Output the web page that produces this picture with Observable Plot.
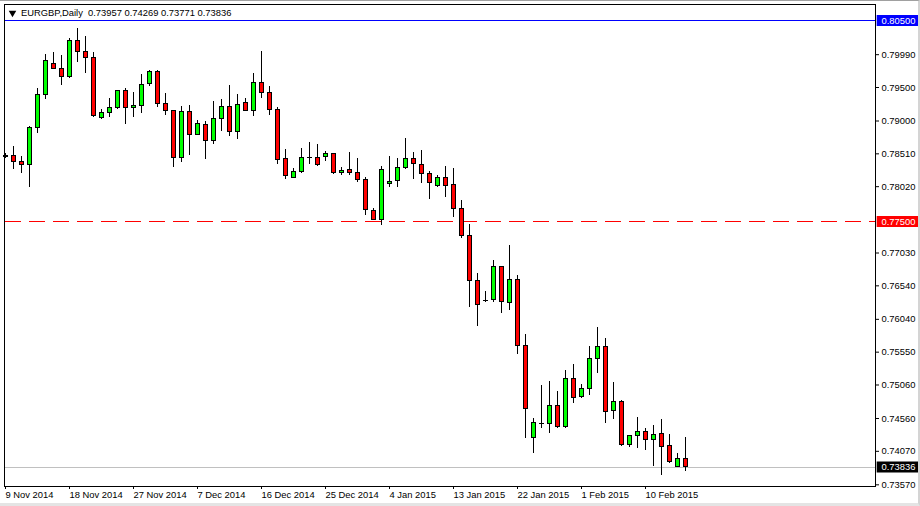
<!DOCTYPE html>
<html>
<head>
<meta charset="utf-8">
<script src="https://cdn.jsdelivr.net/npm/d3@7"></script>
<script src="https://cdn.jsdelivr.net/npm/@observablehq/plot@0.6"></script>
<style>
html, body { margin: 0; padding: 0; background: #fff; }
#wrap { position: relative; width: 920px; height: 506px; overflow: hidden; }
#edge { position: absolute; left: 0; top: 0; width: 918px; height: 502px;
        border-top: 1px solid #a0a0a0; border-right: 2px solid #d4d4d4; border-bottom: 3px solid #e4e4e4;
        pointer-events: none; }
</style>
</head>
<body>
<div id="wrap"><div id="edge"></div></div>
<script>
// ---- data ----
const titleText = "EURGBP,Daily  0.73957 0.74269 0.73771 0.73836";

const opens = [0.78476,0.78484,0.78390,0.78345,0.78892,0.79390,0.79858,0.79779,0.79653,0.80191,
0.80033,0.79943,0.79041,0.79122,0.79190,0.79450,0.79196,0.79226,0.79555,0.79738,
0.79256,0.79151,0.78450,0.79137,0.78793,0.78942,0.78703,0.79032,0.79211,0.78838,
0.79271,0.79151,0.79570,0.79420,0.79166,0.78435,0.78151,0.78235,0.78450,0.78450,
0.78465,0.78509,0.78226,0.78270,0.78226,0.78121,0.77658,0.77524,0.78061,0.78106,
0.78300,0.78435,0.78345,0.78211,0.78031,0.78151,0.78046,0.77688,0.77285,0.76613,
0.76318,0.76329,0.76822,0.76284,0.76628,0.75636,0.74273,0.74482,0.74477,0.74746,
0.74426,0.75149,0.74880,0.75000,0.75448,0.75627,0.74671,0.74806,0.74164,0.74298,
0.74358,0.74238,0.74328,0.74149,0.73835,0.73957];

const highs = [0.78514,0.78618,0.78469,0.78917,0.79480,0.79992,0.80022,0.79973,0.80231,0.80381,
0.80261,0.80018,0.79171,0.79335,0.79455,0.79480,0.79425,0.79694,0.79749,0.79749,
0.79405,0.79156,0.79216,0.79226,0.79007,0.78996,0.79290,0.79316,0.79529,0.79395,
0.79335,0.79709,0.80037,0.79514,0.79196,0.78569,0.78285,0.78584,0.78678,0.78648,
0.78544,0.78514,0.78300,0.78524,0.78435,0.78151,0.77688,0.78315,0.78465,0.78435,
0.78733,0.78524,0.78554,0.78241,0.78181,0.78315,0.78285,0.77807,0.77453,0.76717,
0.76448,0.76911,0.76826,0.77135,0.76687,0.75821,0.74567,0.75045,0.75109,0.74960,
0.75273,0.75363,0.75074,0.75642,0.75911,0.75747,0.75104,0.74836,0.74313,0.74582,
0.74417,0.74462,0.74552,0.74328,0.74044,0.74269];

const lows = [0.78439,0.78275,0.78215,0.78006,0.78817,0.79320,0.79776,0.79534,0.79638,0.79877,
0.79713,0.79047,0.79017,0.79047,0.79175,0.78951,0.79047,0.79116,0.79510,0.79205,
0.79081,0.78309,0.78384,0.78484,0.78790,0.78429,0.78653,0.78838,0.78772,0.78727,
0.79148,0.79062,0.79331,0.79077,0.78345,0.78121,0.78148,0.78220,0.78354,0.78324,
0.78399,0.78196,0.78181,0.78181,0.78076,0.77583,0.77509,0.77434,0.78002,0.78002,
0.78270,0.78121,0.78061,0.77822,0.78002,0.77852,0.77553,0.77240,0.76218,0.75935,
0.76284,0.76284,0.76120,0.76165,0.75522,0.74268,0.74044,0.74417,0.74343,0.74411,
0.74411,0.74791,0.74865,0.74910,0.75239,0.74492,0.74552,0.74149,0.74134,0.74119,
0.74089,0.73850,0.73716,0.73895,0.73835,0.73771];

const closes = [0.78470,0.78394,0.78345,0.78902,0.79390,0.79898,0.79779,0.79659,0.80191,0.80033,
0.79943,0.79071,0.79122,0.79196,0.79450,0.79190,0.79226,0.79540,0.79738,0.79256,
0.79151,0.78450,0.79141,0.78793,0.78957,0.78703,0.79032,0.79211,0.78838,0.79241,
0.79151,0.79570,0.79420,0.79166,0.78420,0.78181,0.78241,0.78450,0.78446,0.78345,
0.78509,0.78226,0.78255,0.78226,0.78121,0.77673,0.77524,0.78270,0.78091,0.78300,
0.78435,0.78360,0.78211,0.78076,0.78151,0.78031,0.77688,0.77285,0.76613,0.76254,
0.76315,0.76822,0.76299,0.76628,0.75646,0.74701,0.74486,0.74478,0.74746,0.74426,
0.75149,0.74865,0.75000,0.75448,0.75627,0.74656,0.74806,0.74164,0.74298,0.74358,
0.74238,0.74313,0.74134,0.73910,0.73954,0.73836];

const dateTickIndex = [0, 8, 16, 24, 32, 40, 48, 56, 64, 72, 80];
const dateLabels = ["9 Nov 2014","18 Nov 2014","27 Nov 2014","7 Dec 2014","16 Dec 2014",
  "25 Dec 2014","4 Jan 2015","13 Jan 2015","22 Jan 2015","1 Feb 2015","10 Feb 2015"];

const priceTicks = [0.7999,0.7950,0.7900,0.7851,0.7802,0.7703,0.7654,0.7604,0.7555,0.7506,0.7456,0.7407,0.7357];

const levelValues = [0.80500, 0.77500];
const levelColors = ["#0000ff", "#ff0000"];
const lastPrice = 0.73836;

// ---- build ----
const bars = opens.map((o, i) => ({i, o, h: highs[i], l: lows[i], c: closes[i], up: closes[i] > opens[i]}));
const labelAt = new Map(dateTickIndex.map((t, k) => [t, dateLabels[k]]));
const tags = [
  {v: levelValues[0], color: levelColors[0]},
  {v: levelValues[1], color: levelColors[1]},
  {v: lastPrice, color: "#000000"}
];

const font = "'Liberation Sans', Arial, sans-serif";
const chart = Plot.plot({
  width: 920,
  height: 506,
  marginLeft: 4,
  marginRight: 45,
  marginTop: 4,
  marginBottom: 20,
  style: {fontFamily: font, fontSize: "9.4px", background: "transparent", color: "#000", overflow: "visible"},
  x: {type: "linear", domain: [-0.125, 108.75]},
  y: {type: "linear", domain: [0.73545, 0.80739]},
  marks: [
    // level lines
    Plot.ruleY([levelValues[0]], {stroke: levelColors[0], strokeWidth: 1, shapeRendering: "crispEdges"}),
    Plot.ruleY([levelValues[1]], {stroke: levelColors[1], strokeWidth: 1, strokeDasharray: "16,8", strokeDashoffset: -1, shapeRendering: "crispEdges"}),
    Plot.ruleY([lastPrice], {stroke: "#c0c0c0", strokeWidth: 1, shapeRendering: "crispEdges"}),
    // wicks
    Plot.ruleX(bars, {x: "i", y1: "l", y2: "h", stroke: "#000", strokeWidth: 1, shapeRendering: "crispEdges"}),
    // bodies
    Plot.rect(bars, {
      x1: d => d.i - 0.5, x2: d => d.i + 0.5,
      y1: "o", y2: "c",
      insetLeft: 2, insetRight: 2,
      fill: d => d.up ? "#00ff00" : "#ff0000",
      stroke: "#000", strokeWidth: 1, shapeRendering: "crispEdges"
    }),
    Plot.frame({stroke: "#000", shapeRendering: "crispEdges"}),
    // axes
    Plot.axisY(priceTicks, {anchor: "right", tickSize: 3, tickPadding: 3, tickFormat: d => d.toFixed(5), label: null}),
    Plot.axisX(dateTickIndex, {anchor: "bottom", tickSize: 3, tickPadding: 2, tickFormat: d => labelAt.get(d), textAnchor: "start", dx: 0, label: null}),
    // right tags
    Plot.ruleY(tags, {y: "v", x1: 108.96, x2: 114.25, stroke: "color", strokeWidth: 11}),
    Plot.text(tags, {y: "v", frameAnchor: "right", dx: 6, textAnchor: "start", text: d => d.v.toFixed(5), fill: "#fff"}),
    // title
    Plot.dot([0], {frameAnchor: "top-left", dx: 8, dy: 8.5, symbol: "triangle", rotate: 180, r: 2.8, fill: "#000"}),
    Plot.text([titleText], {frameAnchor: "top-left", dx: 16.5, dy: 8.3, textAnchor: "start", lineAnchor: "middle", fill: "#000"})
  ]
});
document.getElementById("wrap").prepend(chart);
</script>
</body>
</html>
